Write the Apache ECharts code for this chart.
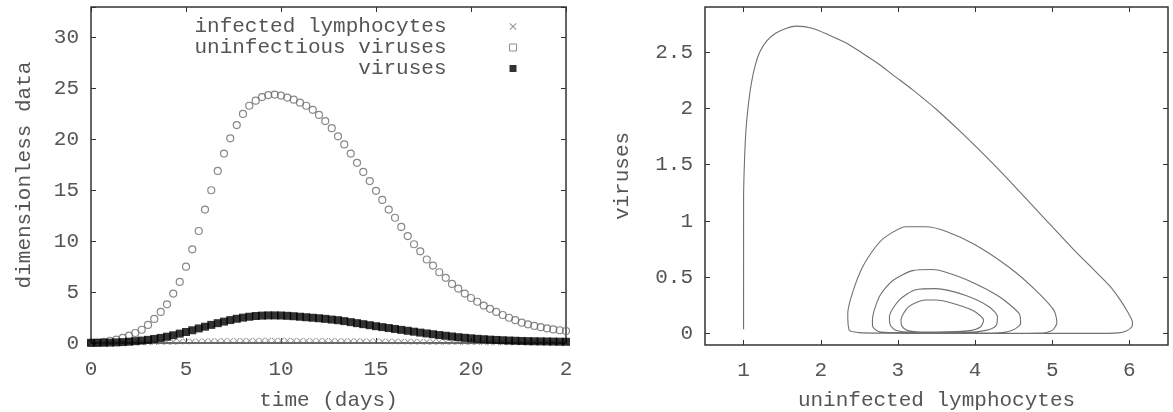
<!DOCTYPE html>
<html>
<head>
<meta charset="utf-8">
<script src="https://cdn.jsdelivr.net/npm/echarts@6/dist/echarts.min.js"></script>
<style>html,body{margin:0;padding:0;background:#fff}#c{width:1173px;height:412px}</style>
</head>
<body>
<div id="c"></div>
<script>
// ---- Left panel: time courses ----
const tDays = [0,0.33,0.67,1,1.33,1.67,2,2.33,2.67,3,3.33,3.67,4,4.33,4.67,5,5.33,5.67,6,6.33,6.67,7,7.33,7.67,8,8.33,8.67,9,9.33,9.67,10,10.33,10.67,11,11.33,11.67,12,12.33,12.67,13,13.33,13.67,14,14.33,14.67,15,15.33,15.67,16,16.33,16.67,17,17.33,17.67,18,18.33,18.67,19,19.33,19.67,20,20.33,20.67,21,21.33,21.67,22,22.33,22.67,23,23.33,23.67,24,24.33,24.67,25];
const infectedLymphocytes = [0,0,0.01,0.01,0.02,0.02,0.03,0.04,0.05,0.06,0.07,0.09,0.1,0.11,0.13,0.14,0.15,0.17,0.18,0.19,0.2,0.21,0.22,0.22,0.23,0.23,0.24,0.24,0.24,0.24,0.24,0.24,0.23,0.23,0.23,0.22,0.22,0.21,0.21,0.2,0.2,0.19,0.19,0.18,0.17,0.17,0.16,0.15,0.15,0.14,0.13,0.13,0.12,0.11,0.11,0.1,0.1,0.09,0.09,0.08,0.08,0.07,0.07,0.06,0.06,0.06,0.05,0.05,0.05,0.04,0.04,0.04,0.04,0.03,0.03,0.03];
const uninfectiousViruses = [0,0.05,0.12,0.22,0.33,0.5,0.72,0.98,1.3,1.78,2.36,3.05,3.8,4.85,6.0,7.5,9.2,11.0,13.1,15.0,16.9,18.6,20.1,21.4,22.5,23.3,23.8,24.15,24.35,24.4,24.3,24.1,23.9,23.6,23.3,22.9,22.4,21.8,21.1,20.3,19.5,18.6,17.7,16.8,15.9,14.95,14.05,13.1,12.3,11.4,10.5,9.7,9.0,8.2,7.6,6.95,6.4,5.8,5.35,4.85,4.42,4.05,3.68,3.36,3.05,2.75,2.48,2.24,2.0,1.83,1.68,1.55,1.43,1.33,1.25,1.18];
const viruses = [0.02,0.02,0.03,0.04,0.06,0.09,0.13,0.18,0.24,0.31,0.4,0.5,0.62,0.76,0.92,1.08,1.25,1.43,1.6,1.78,1.95,2.1,2.25,2.38,2.49,2.58,2.65,2.69,2.71,2.71,2.7,2.67,2.63,2.58,2.53,2.48,2.43,2.37,2.3,2.24,2.15,2.05,1.95,1.85,1.75,1.65,1.56,1.47,1.38,1.29,1.2,1.11,1.02,0.94,0.86,0.78,0.71,0.64,0.57,0.51,0.46,0.41,0.37,0.33,0.3,0.27,0.24,0.22,0.2,0.18,0.17,0.16,0.15,0.14,0.13,0.12];
const leftXTicks = [0,5,10,15,20,25];
const leftXTickText = ['0','5','10','15','20','2'];
const leftYTicks = [0,5,10,15,20,25,30];

// ---- Right panel: phase portrait ----
const phaseLymphocytes = [1.0,1.0,1.0,1.0,1.01,1.03,1.06,1.1,1.15,1.21,1.3,1.42,1.55,1.68,1.9,2.11,2.33,2.54,2.76,2.93,3.2,3.5,3.8,4.1,4.4,4.7,5.0,5.3,5.55,5.75,5.88,5.98,6.04,6.03,5.96,5.86,5.5,4.5,3.5,2.8,2.5,2.37,2.35,2.41,2.54,2.71,2.84,3.1,3.36,3.62,4.0,4.44,4.78,5.02,5.06,5.0,4.82,4.3,3.5,3.0,2.75,2.67,2.67,2.76,2.93,3.19,3.45,3.6,3.92,4.31,4.57,4.59,4.48,4.3,3.8,3.2,2.97,2.9,2.89,3.02,3.23,3.49,3.88,4.18,4.29,4.27,4.14,3.9,3.4,3.12,3.05,3.04,3.14,3.36,3.49,3.66,3.96,4.11,4.07,3.9,3.5,3.25];
const phaseViruses = [0.04,0.3,0.7,1.19,1.5,1.8,2.02,2.22,2.38,2.5,2.6,2.67,2.71,2.73,2.71,2.65,2.58,2.49,2.39,2.3,2.16,1.99,1.8,1.6,1.39,1.17,0.95,0.73,0.56,0.42,0.3,0.19,0.1,0.06,0.025,0.008,0.003,0.003,0.003,0.005,0.01,0.03,0.18,0.36,0.59,0.77,0.86,0.95,0.95,0.91,0.79,0.59,0.39,0.21,0.1,0.03,0.005,0.003,0.004,0.01,0.02,0.07,0.12,0.33,0.47,0.56,0.57,0.55,0.47,0.33,0.18,0.09,0.03,0.008,0.005,0.01,0.03,0.08,0.15,0.3,0.39,0.4,0.34,0.24,0.15,0.07,0.03,0.012,0.012,0.03,0.07,0.12,0.24,0.3,0.3,0.28,0.21,0.12,0.06,0.025,0.015,0.015];
const rightXTicks = [1,2,3,4,5,6];
const rightYTicks = [0,0.5,1,1.5,2,2.5];

const FONT = 'Liberation Mono';
const FS = 21;
const TXT = '#555';
const AX = '#333';
const crossPath = 'path://M0,1L1,0L5,4L9,0L10,1L6,5L10,9L9,10L5,6L1,10L0,9L4,5Z';

function pairs(xs, ys){ return xs.map((x,i)=>[x, ys[i]]); }

function mainAxis(extra){
  return Object.assign({
    type:'value', splitLine:{show:false},
    axisLine:{show:false, onZero:false},
    axisTick:{show:true, inside:true, length:5, lineStyle:{color:AX, width:1}},
    axisLabel:{fontFamily:FONT, fontSize:FS, color:TXT},
    nameTextStyle:{fontFamily:FONT, fontSize:FS, color:TXT},
    nameLocation:'middle'
  }, extra);
}
function mirrorAxis(extra){
  return Object.assign({
    type:'value', splitLine:{show:false},
    axisLine:{show:false, onZero:false},
    axisTick:{show:true, inside:true, length:5, lineStyle:{color:AX, width:1}},
    axisLabel:{show:false}
  }, extra);
}

const chart = echarts.init(document.getElementById('c'));
chart.setOption({
  animation:false,
  backgroundColor:'#fff',
  grid:[
    {left:91, top:7, width:475, height:336, show:true, borderColor:AX, borderWidth:1.5, backgroundColor:'transparent', outerBoundsMode:'none', containLabel:false},
    {left:705, top:7, width:463, height:338, show:true, borderColor:AX, borderWidth:1.5, backgroundColor:'transparent', outerBoundsMode:'none', containLabel:false}
  ],
  legend:{
    orient:'vertical', align:'right', right:656, top:16, padding:0,
    itemWidth:7, itemHeight:7, itemGap:0, selectedMode:false,
    textStyle:{fontFamily:FONT, fontSize:FS, color:TXT, padding:[0,58,0,0]},
    data:[
      {name:'infected lymphocytes', icon:crossPath, itemStyle:{color:'#777', borderWidth:0}},
      {name:'uninfectious viruses', icon:'rect', itemStyle:{color:'rgba(255,255,255,0)', borderColor:'#777', borderWidth:1}},
      {name:'viruses', icon:'rect', itemStyle:{color:'#000', borderWidth:0}}
    ]
  },
  xAxis:[
    mainAxis({gridIndex:0, min:0, max:25, interval:5, name:'time (days)', nameGap:47,
      axisLabel:{fontFamily:FONT, fontSize:FS, color:TXT, margin:16,
        formatter:(v)=>{const i=leftXTicks.indexOf(v); return i>=0?leftXTickText[i]:'';}}}),
    mirrorAxis({gridIndex:0, position:'top', min:0, max:25, interval:5}),
    mainAxis({gridIndex:1, min:0.5, max:6.5, name:'uninfected lymphocytes', nameGap:45,
      axisTick:{show:true, inside:true, length:5, lineStyle:{color:AX}, customValues:rightXTicks},
      axisLabel:{fontFamily:FONT, fontSize:FS, color:TXT, margin:15, customValues:rightXTicks}}),
    mirrorAxis({gridIndex:1, position:'top', min:0.5, max:6.5,
      axisTick:{show:true, inside:true, length:5, lineStyle:{color:AX}, customValues:rightXTicks}})
  ],
  yAxis:[
    mainAxis({gridIndex:0, min:0, max:33, interval:5, name:'dimensionless data', nameGap:56,
      axisLabel:{fontFamily:FONT, fontSize:FS, color:TXT, margin:12,
        formatter:(v)=> leftYTicks.indexOf(v)>=0 ? String(v) : ''}}),
    mirrorAxis({gridIndex:0, position:'right', min:0, max:33, interval:5}),
    mainAxis({gridIndex:1, min:-0.1, max:2.9, name:'viruses', nameGap:72,
      axisTick:{show:true, inside:true, length:5, lineStyle:{color:AX}, customValues:rightYTicks},
      axisLabel:{fontFamily:FONT, fontSize:FS, color:TXT, margin:12, customValues:rightYTicks}}),
    mirrorAxis({gridIndex:1, position:'right', min:-0.1, max:2.9,
      axisTick:{show:true, inside:true, length:5, lineStyle:{color:AX}, customValues:rightYTicks}})
  ],
  series:[
    {name:'infected lymphocytes', type:'scatter', xAxisIndex:0, yAxisIndex:0,
      symbol:crossPath, symbolSize:6, itemStyle:{color:'#777'}, data:pairs(tDays, infectedLymphocytes)},
    {name:'uninfectious viruses', type:'scatter', xAxisIndex:0, yAxisIndex:0,
      symbol:'circle', symbolSize:7, itemStyle:{color:'rgba(255,255,255,0)', borderColor:'#6a6a6a', borderWidth:1.2},
      data:pairs(tDays, uninfectiousViruses)},
    {name:'viruses', type:'scatter', xAxisIndex:0, yAxisIndex:0,
      symbol:'rect', symbolSize:8, itemStyle:{color:'#000'}, data:pairs(tDays, viruses)},
    {name:'phase', type:'line', xAxisIndex:2, yAxisIndex:2, showSymbol:false, smooth:0.25,
      lineStyle:{color:'#707070', width:1.1}, data:pairs(phaseLymphocytes, phaseViruses)}
  ]
});
</script>
</body>
</html>
